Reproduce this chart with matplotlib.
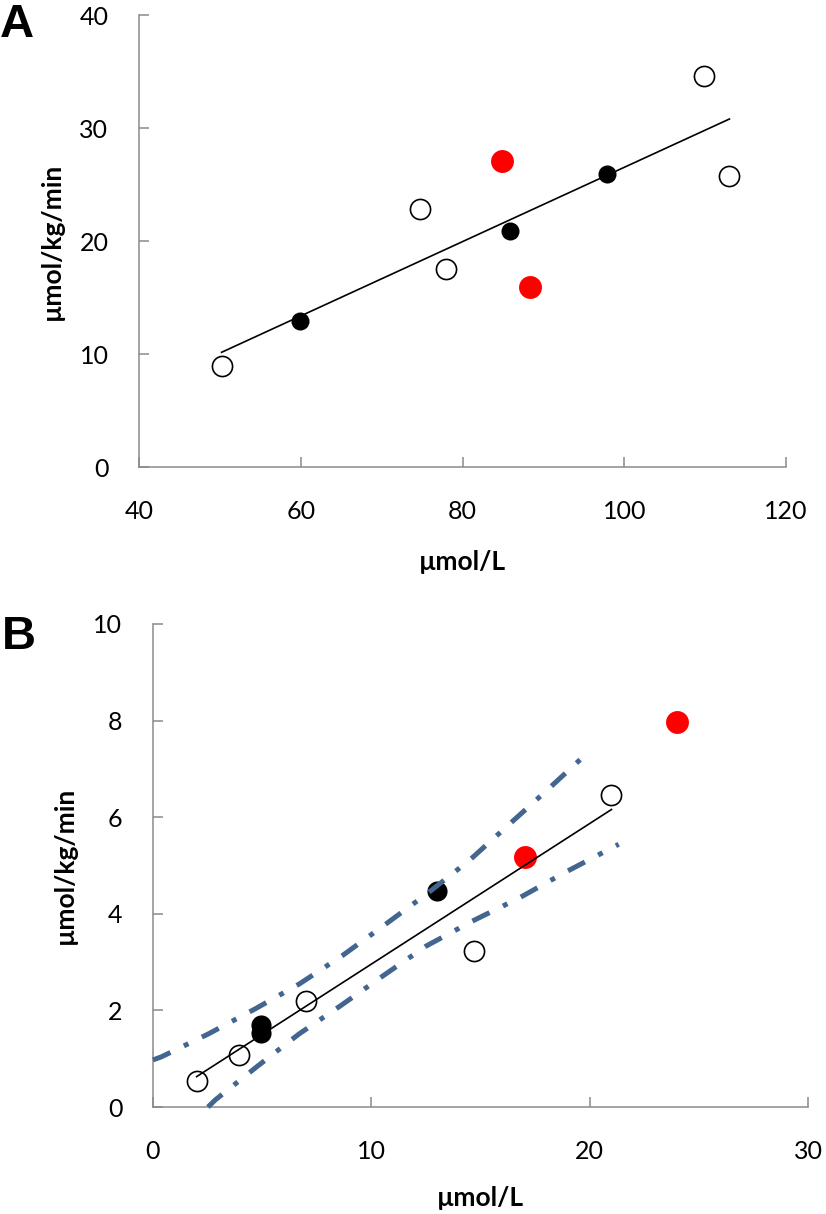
import numpy as np
import matplotlib
matplotlib.use("Agg")
import matplotlib.pyplot as plt

# panel A
a_open_x = [50.2, 74.8, 77.9, 109.9, 112.9]
a_open_y = [8.9, 22.8, 17.5, 34.6, 25.8]
a_black_x = [59.9, 85.9, 97.9]
a_black_y = [12.9, 20.9, 25.9]
a_red_x = [84.9, 88.3]
a_red_y = [27.1, 15.9]
a_fit_x = [50.2, 113.0]
a_fit_y = [10.15, 30.8]

# panel B
b_open_x = [2.0, 3.95, 7.0, 14.7, 21.0]
b_open_y = [0.54, 1.07, 2.19, 3.24, 6.46]
b_black_x = [4.97, 4.97, 13.0]
b_black_y = [1.53, 1.70, 4.48]
b_red_x = [17.05, 24.0]
b_red_y = [5.18, 7.97]
b_fit_x = [2.0, 21.0]
b_fit_y = [0.63, 6.16]
b_up_x = [0, 0.39, 2.52, 4.67, 6.71, 8.69, 10.67, 12.59, 14.5, 16.26, 18.05, 19.8]
b_up_y = [0.975, 1.04, 1.51, 2.03, 2.55, 3.14, 3.79, 4.43, 5.11, 5.83, 6.56, 7.29]
b_lo_x = [2.52, 2.86, 4.77, 6.68, 8.6, 10.58, 12.5, 14.63, 16.78, 18.84, 21.33]
b_lo_y = [0, 0.15, 0.84, 1.51, 2.10, 2.73, 3.33, 3.85, 4.33, 4.85, 5.44]

plt.rcParams["font.family"] = ["Lato", "DejaVu Sans"]

fig = plt.figure(figsize=(8.26, 12.14), dpi=100)
axA = fig.add_axes([0.1683, 0.6153, 0.7833, 0.3723])
axB = fig.add_axes([0.1852, 0.0881, 0.7930, 0.3979])

gray = "#8a8a8a"
band = "#436690"


def style(ax, xlim, ylim, xt, yt):
    ax.set_xlim(*xlim)
    ax.set_ylim(*ylim)
    ax.set_xticks(xt)
    ax.set_yticks(yt)
    for s in ["top", "right"]:
        ax.spines[s].set_visible(False)
    for s in ["left", "bottom"]:
        ax.spines[s].set_color(gray)
        ax.spines[s].set_linewidth(1.1)
    ax.tick_params(axis="both", direction="in", length=7, width=1.1,
                   color=gray, labelsize=18)
    ax.tick_params(axis="x", pad=24)
    ax.tick_params(axis="y", pad=22)
    ax.set_xlabel("µmol/L", fontsize=19, fontweight="bold")
    ax.set_ylabel("µmol/kg/min", fontsize=19, fontweight="bold")


def points(ax, ox, oy, bx, by, rx, ry, black_ms):
    ax.plot(ox, oy, "o", ms=14.5, mfc="none", mec="black", mew=1.2,
            ls="none", zorder=3)
    ax.plot(bx, by, "o", ms=black_ms, mfc="black", mec="black", mew=0,
            ls="none", zorder=3)
    ax.plot(rx, ry, "o", ms=16.5, mfc="#ff0000", mec="#ff0000", mew=0,
            ls="none", zorder=3)


style(axA, (40, 120), (0, 40), [40, 60, 80, 100, 120], [0, 10, 20, 30, 40])
points(axA, a_open_x, a_open_y, a_black_x, a_black_y, a_red_x, a_red_y, 13)
axA.plot(a_fit_x, a_fit_y, color="black", lw=1.2, zorder=4)

style(axB, (0, 30), (0, 10), [0, 10, 20, 30], [0, 2, 4, 6, 8, 10])
points(axB, b_open_x, b_open_y, b_black_x, b_black_y, b_red_x, b_red_y, 14.5)
axB.plot(b_fit_x, b_fit_y, color="black", lw=1.2, zorder=4)
for bx_, by_ in [(b_up_x, b_up_y), (b_lo_x, b_lo_y)]:
    axB.plot(bx_, by_, color=band, lw=3.6, ls=(0, (3.8, 3.0, 1.0, 3.0)),
             zorder=5, clip_on=False)

for ax in (axA, axB):
    ax.xaxis.label.set_va("center")
    ax.yaxis.label.set_va("center")
axA.xaxis.set_label_coords(0.5, -0.21)
axB.xaxis.set_label_coords(0.5, -0.188)
axA.yaxis.set_label_coords(-0.1345, 0.5)
axB.yaxis.set_label_coords(-0.134, 0.5)

fig.text(0.0, 0.9975, "A", fontsize=34, fontweight="bold",
         family="Liberation Sans", va="top", ha="left")
fig.text(0.002, 0.4935, "B", fontsize=34, fontweight="bold",
         family="Liberation Sans", va="top", ha="left")

fig.savefig("out.png", dpi=100)
